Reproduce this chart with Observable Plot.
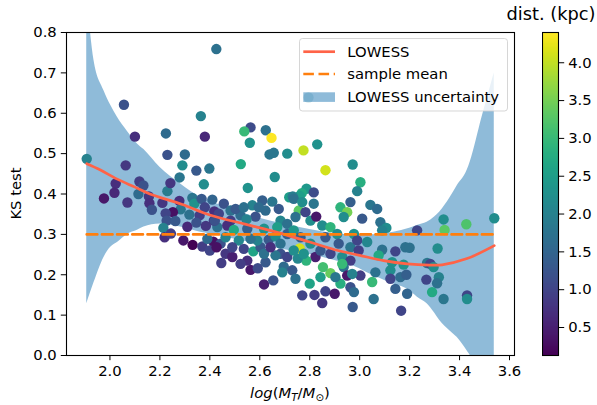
<!DOCTYPE html>
<html><head><meta charset="utf-8">
<script src="https://cdn.jsdelivr.net/npm/d3@7"></script>
<script src="https://cdn.jsdelivr.net/npm/@observablehq/plot@0.6"></script>
<style>
body{margin:0;background:#fff;font-family:"DejaVu Sans",sans-serif;}
#wrap{position:relative;width:597px;height:405px;overflow:hidden;}
#wrap svg{position:absolute;top:0;}
</style></head><body><div id="wrap"></div>
<script>
// scatter: log(M_T/M_sun), KS test, distance (kpc)
const massX = [2.426,2.056,2.364,2.563,2.538,2.624,2.647,2.56,2.10,2.38,2.224,2.639,2.656,2.71,2.775,2.83,2.863,2.23,2.30,2.29,2.346,2.398,2.524,2.552,2.66,2.063,2.279,2.376,2.23,2.787,2.768,2.76,2.816,2.718,2.732,2.972,3.003,2.99,1.907,2.023,2.018,1.976,2.07,2.118,2.134,2.114,2.156,2.158,2.168,2.242,2.21,2.278,2.283,2.252,2.223,2.227,2.214,2.262,2.219,2.244,2.33,2.338,2.367,2.41,2.38,2.418,2.318,2.359,2.31,2.346,2.384,2.294,2.331,2.37,2.414,2.39,2.456,2.483,2.436,2.523,2.57,2.61,2.65,2.623,2.583,2.547,2.483,2.43,2.47,2.496,2.443,2.463,2.49,2.446,2.516,2.536,2.574,2.603,2.55,2.523,2.563,2.592,2.623,2.617,2.654,2.59,2.563,2.636,2.663,2.683,2.67,2.71,2.683,2.663,2.71,2.696,2.73,2.743,2.77,2.819,2.85,2.863,2.90,2.80,2.883,2.853,2.823,2.786,2.752,2.76,2.803,2.843,2.883,2.93,2.963,2.936,2.95,2.923,2.963,2.977,2.972,2.756,2.743,2.783,2.803,2.826,2.816,2.85,2.883,2.863,2.923,2.95,2.963,2.936,2.91,2.977,2.963,2.996,3.043,3.07,3.01,3.083,3.107,3.09,3.23,3.336,3.427,3.34,3.539,2.99,3.03,3.09,3.143,3.183,3.20,3.312,3.076,3.13,3.176,3.27,3.283,3.296,3.123,3.063,3.003,3.05,3.123,3.163,3.187,3.267,3.317,3.31,3.143,3.19,3.29,3.336,3.43,3.43,3.166,3.056,2.416,2.503,2.536,2.596,2.676,2.736,2.77,2.71,2.736,2.763,2.617,2.55,2.463,2.49,2.617,2.643,2.736,2.776,2.683,2.916,2.97,2.903,2.93,2.843,2.69,2.42,2.40,2.427,2.795];
const ksTest = [0.759,0.621,0.593,0.565,0.555,0.558,0.539,0.527,0.542,0.542,0.55,0.498,0.502,0.50,0.508,0.523,0.459,0.497,0.498,0.471,0.458,0.463,0.474,0.415,0.442,0.471,0.441,0.424,0.407,0.413,0.402,0.395,0.404,0.392,0.394,0.473,0.429,0.407,0.487,0.426,0.403,0.389,0.379,0.431,0.421,0.40,0.394,0.377,0.361,0.427,0.378,0.383,0.362,0.355,0.352,0.334,0.316,0.333,0.293,0.302,0.39,0.376,0.388,0.386,0.367,0.357,0.349,0.347,0.319,0.329,0.321,0.285,0.274,0.27,0.282,0.289,0.376,0.359,0.351,0.347,0.372,0.384,0.381,0.359,0.344,0.337,0.334,0.318,0.322,0.311,0.277,0.252,0.244,0.229,0.285,0.264,0.258,0.268,0.235,0.227,0.212,0.216,0.231,0.176,0.186,0.285,0.289,0.287,0.295,0.334,0.318,0.301,0.252,0.248,0.244,0.22,0.211,0.19,0.149,0.15,0.13,0.159,0.153,0.178,0.204,0.219,0.244,0.235,0.24,0.265,0.277,0.26,0.252,0.244,0.235,0.219,0.198,0.178,0.169,0.157,0.12,0.359,0.343,0.355,0.334,0.344,0.376,0.322,0.318,0.293,0.367,0.355,0.38,0.343,0.301,0.301,0.268,0.26,0.373,0.363,0.339,0.33,0.316,0.31,0.31,0.337,0.325,0.311,0.34,0.285,0.281,0.262,0.258,0.268,0.267,0.265,0.248,0.231,0.225,0.229,0.227,0.219,0.211,0.206,0.198,0.182,0.19,0.194,0.20,0.188,0.194,0.179,0.165,0.153,0.157,0.14,0.149,0.14,0.111,0.14,0.334,0.363,0.367,0.367,0.363,0.388,0.38,0.326,0.31,0.293,0.314,0.314,0.293,0.268,0.252,0.268,0.26,0.252,0.277,0.277,0.202,0.194,0.227,0.194,0.206,0.334,0.26,0.268,0.639];
const distKpc = [1.7,1.2,2.0,1.1,3.0,1.7,4.40,2.3,0.7,0.6,1.6,1.8,1.8,2.2,4.0,2.3,4.1,1.2,1.6,2.2,1.3,1.8,2.7,2.3,2.2,0.8,1.8,2.2,1.9,2.4,2.7,2.5,1.1,2.5,1.9,2.2,2.8,2.0,2.0,0.7,0.6,0.4,0.8,0.9,1.2,1.6,0.8,0.7,1.2,0.8,0.8,0.7,1.8,0.3,1.0,1.2,2.0,1.3,0.7,0.9,1.8,2.3,1.3,1.5,1.0,0.7,1.7,0.9,0.6,1.2,0.8,0.4,0.13,0.9,0.3,1.6,1.2,1.7,1.0,1.6,2.0,1.4,1.8,1.6,1.2,2.0,0.9,1.7,0.7,2.7,1.2,0.8,0.5,0.9,2.1,1.0,2.6,1.3,0.7,0.9,0.4,1.1,1.3,0.5,1.2,2.0,1.7,1.3,2.2,2.1,2.5,1.4,1.2,1.8,1.0,1.6,1.3,1.7,1.0,0.9,0.8,1.0,0.4,2.6,3.4,3.1,0.5,2.9,2.1,4.1,2.2,1.3,1.0,2.2,0.9,1.7,0.4,2.8,1.2,1.6,1.3,3.3,1.7,1.0,2.2,0.4,1.8,2.2,2.9,1.3,2.9,3.5,1.4,2.2,2.2,2.3,1.8,0.9,1.8,1.6,1.3,1.7,2.2,2.0,1.0,2.2,3.2,3.3,2.2,1.0,2.1,1.7,1.0,1.7,1.7,2.2,2.7,2.3,2.3,1.8,1.0,2.2,2.2,1.7,0.9,3.0,1.0,1.6,1.4,1.0,2.0,1.7,1.4,1.5,2.7,1.8,1.0,2.2,1.0,1.7,0.8,1.3,1.7,1.6,1.3,1.7,2.2,1.7,2.4,1.4,2.3,1.4,2.0,1.0,1.7,0.7,2.2,2.3,1.7,1.3,2.0,1.8,3.0,2.5,2.0,1.2,1.0,0.3,2.0];

// LOWESS fit
const lowessX = [1.907,1.96,2.027,2.1,2.16,2.29,2.40,2.536,2.67,2.80,2.90,3.0,3.096,3.19,3.28,3.33,3.43,3.539];
const lowessY = [0.475,0.46,0.4375,0.417,0.40,0.374,0.348,0.326,0.305,0.281,0.262,0.248,0.235,0.227,0.224,0.2246,0.24,0.272];

// LOWESS uncertainty band
const bandX = [1.907,1.936,1.976,2.003,2.03,2.07,2.11,2.136,2.2,2.283,2.363,2.43,2.5,2.6,2.7,2.8,2.9,3.0,3.03,3.1,3.136,3.2,3.23,3.27,3.30,3.32,3.363,3.39,3.43,3.443,3.49,3.539];
const bandHigh = [0.90,0.731,0.656,0.62,0.59,0.555,0.524,0.51,0.466,0.425,0.392,0.375,0.36,0.34,0.325,0.312,0.302,0.298,0.298,0.302,0.305,0.315,0.322,0.33,0.343,0.355,0.392,0.42,0.458,0.48,0.59,0.70];
const bandLow = [0.128,0.18,0.243,0.268,0.28,0.30,0.31,0.318,0.326,0.318,0.305,0.298,0.288,0.275,0.262,0.25,0.235,0.215,0.205,0.186,0.177,0.161,0.145,0.128,0.105,0.087,0.06,0.045,0.012,0.0,-0.1,-0.2];

const sampleMean = 0.30;
const meanRange = [1.907, 3.539];

const xTicks = [2.0,2.2,2.4,2.6,2.8,3.0,3.2,3.4,3.6];
const yTicks = [0.0,0.1,0.2,0.3,0.4,0.5,0.6,0.7,0.8];
const cbarTicks = [0.5,1.0,1.5,2.0,2.5,3.0,3.5,4.0];
const cbarDomain = [0.13, 4.40];

const points = massX.map((x,i)=>({x, y:ksTest[i], d:distKpc[i]}));
const band = bandX.map((x,i)=>({x, lo:bandLow[i], hi:bandHigh[i]}));
const lowess = lowessX.map((x,i)=>({x, y:lowessY[i]}));
const meanLine = meanRange.map(x=>({x, y:sampleMean}));

const FONT = "DejaVu Sans";
const FS = 14.8;
const colorOpts = {type:"linear", scheme:"viridis", domain:cbarDomain};
const fmt1 = d3.format(".1f");

const main = Plot.plot({
  width:597, height:405, marginLeft:66, marginRight:83, marginTop:32, marginBottom:50,
  style:{fontFamily:FONT, fontSize:FS+"px", background:"transparent", color:"black"},
  x:{domain:[1.826,3.620]},
  y:{domain:[0,0.8]},
  color:colorOpts,
  marks:[
    Plot.areaY(band,{x:"x", y1:"lo", y2:"hi", fill:"#1f77b4", fillOpacity:0.5, curve:"monotone-x", clip:true}),
    Plot.dot(points,{x:"x", y:"y", fill:"d", r:5.2}),
    Plot.line(lowess,{x:"x", y:"y", stroke:"#ff6347", strokeWidth:2.7, curve:"catmull-rom"}),
    Plot.line(meanLine,{x:"x", y:"y", stroke:"#ff7f0e", strokeWidth:2.7, strokeDasharray:"10.6,4.6"}),
    Plot.frame({stroke:"black", strokeWidth:1.1}),
    Plot.axisX({ticks:xTicks, tickFormat:fmt1, tickSize:5.2, tickPadding:4.5, label:null}),
    Plot.axisY({ticks:yTicks, tickFormat:fmt1, tickSize:5.2, tickPadding:4.5, label:null})
  ]
});
main.style.left = "0px";

const cbar = Plot.plot({
  width:55, height:405, marginLeft:0, marginRight:39, marginTop:32, marginBottom:50,
  style:{fontFamily:FONT, fontSize:FS+"px", background:"transparent", color:"black"},
  x:{domain:[0,1], axis:null},
  y:{domain:cbarDomain, axis:null},
  color:colorOpts,
  marks:[
    Plot.raster({x1:0, x2:1, y1:cbarDomain[0], y2:cbarDomain[1], width:1, height:323, fill:(x,y)=>y, imageRendering:"auto"}),
    Plot.frame({stroke:"black", strokeWidth:1.1}),
    Plot.axisY({anchor:"right", ticks:cbarTicks, tickFormat:fmt1, tickSize:5.2, tickPadding:4.5, label:null})
  ]
});
cbar.style.left = "542px";

const wrap = document.getElementById("wrap");
wrap.appendChild(main);
wrap.appendChild(cbar);

// overlay: labels, legend, colorbar title
const ov = d3.select(wrap).append("svg").attr("width",597).attr("height",405)
  .style("left","0px").attr("font-family",FONT);

ov.append("text").attr("transform","translate(20.5,193.5) rotate(-90)")
  .attr("text-anchor","middle").attr("font-size",FS).text("KS test");

const xl = ov.append("text").attr("x",290).attr("y",398).attr("text-anchor","middle").attr("font-size",FS);
xl.append("tspan").attr("font-style","italic").text("log");
xl.append("tspan").text("(");
xl.append("tspan").attr("font-style","italic").text("M");
xl.append("tspan").attr("font-style","italic").attr("font-size",10.4).attr("dy",3).text("T");
xl.append("tspan").attr("dy",-3).text("/");
xl.append("tspan").attr("font-style","italic").text("M");
xl.append("tspan").attr("font-size",10.4).attr("dy",3).text("\u2299");
xl.append("tspan").attr("dy",-3).text(")");

ov.append("text").attr("x",551).attr("y",20).attr("text-anchor","middle").attr("font-size",17.8).text("dist. (kpc)");

const lg = ov.append("g").attr("transform","translate(299,38)");
lg.append("rect").attr("x",0.5).attr("y",0.5).attr("width",208).attr("height",72.5).attr("rx",3)
  .attr("fill","white").attr("fill-opacity",0.8).attr("stroke","#cccccc").attr("stroke-opacity",0.8);
lg.append("line").attr("x1",4.3).attr("x2",36).attr("y1",13.7).attr("y2",13.7).attr("stroke","#ff6347").attr("stroke-width",2.7);
lg.append("line").attr("x1",4.3).attr("x2",36).attr("y1",36).attr("y2",36).attr("stroke","#ff7f0e").attr("stroke-width",2.7).attr("stroke-dasharray","10.6,4.6");
lg.append("rect").attr("x",4.3).attr("y",54.3).attr("width",31.7).attr("height",9.6).attr("fill","#1f77b4").attr("fill-opacity",0.5);
const legendLabels = ["LOWESS","sample mean","LOWESS uncertainty"];
const legendY = [13.7,36,59];
legendLabels.forEach((t,i)=>lg.append("text").attr("x",48.3).attr("y",legendY[i]).attr("dy","0.36em").attr("font-size",FS).text(t));
</script></body></html>
